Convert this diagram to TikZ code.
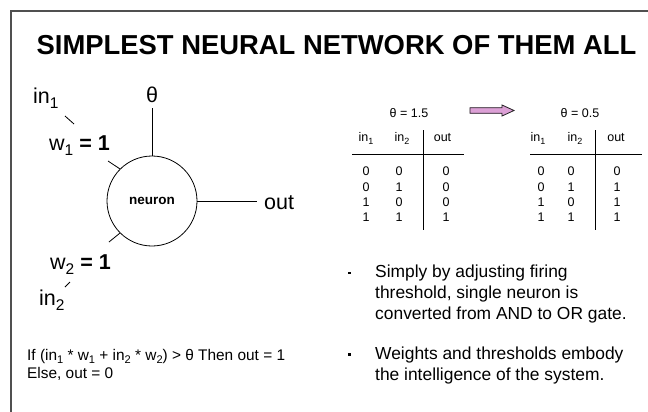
\documentclass[tikz,border=0pt]{standalone}
\usepackage{fontspec}
\setmainfont{Liberation Sans}
\newcommand\mysub[1]{\raisebox{-0.45ex}{\scalebox{0.72}{#1}}}
\definecolor{pinkfill}{RGB}{220,160,214}
\definecolor{framegray}{RGB}{80,80,80}
\begin{document}
\begin{tikzpicture}[x=1pt,y=-1pt,
  big/.style={inner sep=0pt,font=\fontsize{21.5}{24}\selectfont},
  tab/.style={inner sep=0pt,font=\fontsize{12.5}{14}\selectfont},
  small/.style={inner sep=0pt,anchor=base west,font=\fontsize{15.4}{18}\selectfont},
  bullettext/.style={inner sep=0pt,anchor=north west,align=left,font=\fontsize{17.4}{21.3}\selectfont},
  bulletmark/.style={fill=black,inner sep=0pt,minimum size=2.7pt},
  thin/.style={line width=0.8pt,black}]
\useasboundingbox (0,0) rectangle (648,412);
\fill[white] (0,0) rectangle (648,412);
% frame (top and left edges)
\draw[framegray,line width=1.3pt] (648,11) -- (11,11) -- (11,412);
% title
\node[inner sep=0pt,font=\fontsize{27.4}{30}\selectfont\bfseries] (title) at (336.5,45) {SIMPLEST NEURAL NETWORK OF THEM ALL};
% neuron
\node[circle,draw,thin,minimum size=90pt,inner sep=0pt,font=\fontsize{13.5}{15}\selectfont\bfseries] (neuron) at (152,201) {neuron};
\node[big] (theta) at (152,95) {θ};
\coordinate (thetaend) at (152,108);
\draw[thin] (thetaend) -- (neuron.north);
\node[big,anchor=base west] (out) at (264,209) {out};
\coordinate (outend) at (257,201);
\draw[thin] (neuron.east) -- (outend);
\node[big,anchor=base west] (in1) at (33,103) {in\mysub{1}};
\node[big,anchor=base west] (w1) at (49,150) {w\mysub{1} \textbf{= 1}};
\node[big,anchor=base west] (w2) at (50,269) {w\mysub{2} \textbf{= 1}};
\node[big,anchor=base west] (in2) at (39,305) {in\mysub{2}};
\coordinate (t1a) at (65,116); \coordinate (t1b) at (74,124);
\coordinate (t2b) at (65,287); \coordinate (t2a) at (70,282);
\coordinate (w1a) at (108,161);
\coordinate (w2a) at (109,242);
\draw[thin] (t1a) -- (t1b);
\draw[thin] (t2a) -- (t2b);
\draw[thin] (w1a) -- (neuron.135);
\draw[thin] (w2a) -- (neuron.225);
% formula
\node[small] (f1) at (27,360) {If (in\mysub{1} * w\mysub{1} + in\mysub{2} * w\mysub{2}) > θ Then out = 1};
\node[small] (f2) at (27,378) {Else, out = 0};
% table 1
\node[tab] (th1) at (409,113) {θ = 1.5};
\node[tab] (a11) at (366,138) {in\mysub{1}};
\node[tab] (a12) at (402,138) {in\mysub{2}};
\node[tab] (a13) at (442.5,138) {out};
\draw[thin] (352,154) -- (464,154);
\draw[thin] (423,130) -- (423,230);
\foreach \y/\a/\b/\c in {171.5/0/0/0,187/0/1/0,202/1/0/0,217/1/1/1}{
  \node[tab] at (366,\y) {\a};
  \node[tab] at (399,\y) {\b};
  \node[tab] at (446,\y) {\c};
}
% arrow
\draw[pinkfill,fill=pinkfill] (470,107.7) -- (502,107.7) -- (502,105) -- (514,110.5) -- (502,116) -- (502,113.3) -- (470,113.3) -- cycle;
\draw[black!85,line width=0.8pt] (470,107.7) -- (502,107.7) -- (502,105) -- (514,110.5) -- (502,116) -- (502,113.3) -- (470,113.3) -- cycle;
% table 2
\node[tab] (th2) at (580,113) {θ = 0.5};
\node[tab] (b11) at (538,138) {in\mysub{1}};
\node[tab] (b12) at (575,138) {in\mysub{2}};
\node[tab] (b13) at (616,138) {out};
\draw[thin] (530,154) -- (642,154);
\draw[thin] (595,130) -- (595,230);
\foreach \y/\a/\b/\c in {171.5/0/0/0,187/0/1/1,202/1/0/1,217/1/1/1}{
  \node[tab] at (541,\y) {\a};
  \node[tab] at (571,\y) {\b};
  \node[tab] at (617,\y) {\c};
}
% bullets
\node[bulletmark] (bm1) at (349.3,273) {};
\node[bulletmark] (bm2) at (349.3,354.7) {};
\node[bullettext] (b1) at (375,264.2) {Simply by adjusting firing\\threshold, single neuron is\\converted from AND to OR gate.};
\node[bullettext] (b2) at (375,346.2) {Weights and thresholds embody\\the intelligence of the system.};
\end{tikzpicture}
\end{document}
